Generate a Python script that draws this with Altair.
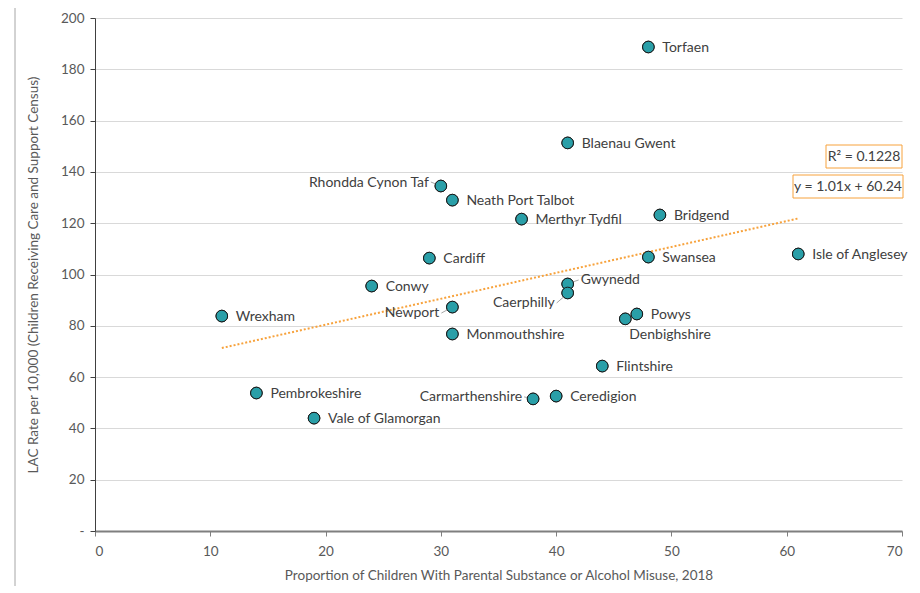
import altair as alt
import pandas as pd

names = ["Torfaen", "Blaenau Gwent", "Rhondda Cynon Taf", "Neath Port Talbot", "Merthyr Tydfil",
         "Bridgend", "Cardiff", "Swansea", "Isle of Anglesey", "Conwy", "Gwynedd", "Caerphilly",
         "Newport", "Wrexham", "Monmouthshire", "Powys", "Denbighshire", "Flintshire",
         "Pembrokeshire", "Carmarthenshire", "Ceredigion", "Vale of Glamorgan"]
misuse = [48, 41, 30, 31, 37, 49, 29, 48, 61, 24, 41, 41, 31, 11, 31, 47, 46, 44, 14, 38, 40, 19]
lac_rate = [188.7, 151.3, 134.5, 129.0, 121.6, 123.2, 106.4, 106.8, 108.0, 95.5, 96.3, 92.8,
            87.3, 83.8, 76.8, 84.6, 82.7, 64.3, 53.8, 51.5, 52.6, 44.0]

trend_slope = 1.01
trend_intercept = 60.24
trend_x = [11, 61]
trend_y = [trend_slope * v + trend_intercept for v in trend_x]

df = pd.DataFrame({"name": names, "x": misuse, "y": lac_rate})
trend = pd.DataFrame({"x": trend_x, "y": trend_y})
one = pd.DataFrame({"k": [0]})

W, H = 807, 513
FONT = "Lato"
TXT = "#404040"

xs = alt.X("x:Q", scale=alt.Scale(domain=[0, 70]),
           axis=alt.Axis(values=list(range(0, 71, 10)),
                         title="Proportion of Children With Parental Substance or Alcohol Misuse, 2018",
                         grid=False, domainColor="#7f7f7f", domainWidth=2, tickColor="#7f7f7f",
                         tickSize=5, labelPadding=8, titlePadding=11, titleFontSize=13.5))
ys = alt.Y("y:Q", scale=alt.Scale(domain=[0, 200]),
           axis=alt.Axis(values=list(range(0, 201, 20)),
                         labelExpr="datum.value == 0 ? '-' : datum.label",
                         title="LAC Rate per 10,000 (Children Receiving Care and Support Census)",
                         grid=True, gridColor="#d9d9d9", domainColor="#404040", tickColor="#404040",
                         tickSize=5, labelPadding=6, titlePadding=20, titleFontSize=13.5))

base = alt.Chart(df)

points = base.mark_point(filled=True, size=135, fill="#2a9fa8", stroke="#1a1a1a",
                         strokeWidth=1, opacity=1).encode(x=xs, y=ys)

line = alt.Chart(trend).mark_line(color="#f7a23c", strokeDash=[2, 2], strokeWidth=2).encode(
    x="x:Q", y="y:Q")


def labels(group, dx, dy, align):
    return base.transform_filter(alt.FieldOneOfPredicate(field="name", oneOf=group)).mark_text(
        align=align, baseline="middle", dx=dx, dy=dy, font=FONT, fontSize=14, color=TXT
    ).encode(x="x:Q", y="y:Q", text="name:N")


left_a = ["Rhondda Cynon Taf"]
left_b = ["Newport"]
left_c = ["Caerphilly"]
left_d = ["Carmarthenshire"]
up_right = ["Gwynedd"]
below = ["Denbighshire"]
special = left_a + left_b + left_c + left_d + up_right + below
right = [n for n in names if n not in special]

layers = [
    line,
    labels(right, 14, 1, "left"),
    labels(left_a, -12, -3, "right"),
    labels(left_b, -13, 6, "right"),
    labels(left_c, -13, 10, "right"),
    labels(left_d, -11, -2, "right"),
    labels(up_right, 13, -4, "left"),
    labels(below, 4, 16, "left"),
]


def leader(group, xo, yo, x2o, y2o):
    return base.transform_filter(alt.FieldOneOfPredicate(field="name", oneOf=group)).mark_rule(
        color="#a6a6a6", strokeWidth=1, xOffset=xo, yOffset=yo, x2Offset=x2o, y2Offset=y2o
    ).encode(x="x:Q", y="y:Q", x2="x:Q", y2="y:Q")


layers += [
    leader(left_a, -10, -4, 0, 0),
    leader(left_b, -11, 6, 0, 0),
    leader(left_c, -11, 10, -4, 4),
    leader(left_d, -9, -2, 0, 0),
    leader(up_right, 11, -4, 2, -1),
]

# annotation boxes for the regression
ann = alt.Chart(one)
box_r2 = ann.mark_rect(fill="white", stroke="#f7a23c", strokeWidth=1).encode(
    x=alt.value(731), x2=alt.value(807), y=alt.value(127), y2=alt.value(150))
txt_r2 = ann.mark_text(font=FONT, fontSize=14, color=TXT, align="center",
                       baseline="middle").encode(
    x=alt.value(769), y=alt.value(139), text=alt.value("R² = 0.1228"))
box_eq = ann.mark_rect(fill="white", stroke="#f7a23c", strokeWidth=1).encode(
    x=alt.value(698), x2=alt.value(808), y=alt.value(157), y2=alt.value(180))
txt_eq = ann.mark_text(font=FONT, fontSize=14, color=TXT, align="center",
                       baseline="middle").encode(
    x=alt.value(753), y=alt.value(169), text=alt.value("y = 1.01x + 60.24"))

# outer chart frame
frame_left = ann.mark_rule(color="#a6a6a6", strokeWidth=1).encode(
    x=alt.value(-80), y=alt.value(-15), y2=alt.value(H + 80))
frame_top = ann.mark_rule(color="#a6a6a6", strokeWidth=1).encode(
    x=alt.value(-80), x2=alt.value(W + 40), y=alt.value(-15))

chart = alt.layer(
    points, *layers, points, box_r2, txt_r2, box_eq, txt_eq, frame_left, frame_top
).properties(
    width=W, height=H,
    autosize=alt.AutoSizeParams(type="none"),
    padding={"left": 87, "top": 10, "right": 10, "bottom": 55},
).configure_view(stroke=None).configure_axis(
    labelFont=FONT, titleFont=FONT, labelFontSize=13.5,
    labelColor="#595959", titleColor="#595959", titleFontWeight="normal"
)

chart.save("out.html", embed_options={"renderer": "svg", "actions": False})
